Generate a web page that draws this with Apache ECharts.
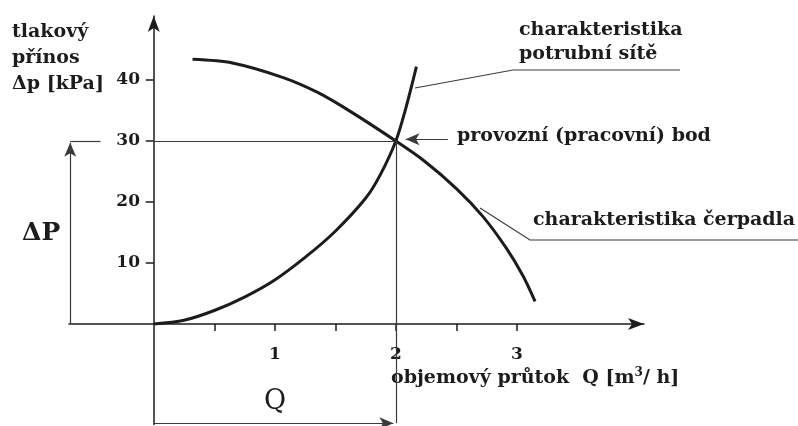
<!DOCTYPE html>
<html>
<head>
    <meta charset="utf-8">
    <title>pracovní bod čerpadla</title>
    <script type="text/javascript" src="https://cdn.jsdelivr.net/npm/echarts@6/dist/echarts.min.js"></script>
    <style>
        body {
            margin: 0px;
            padding: 0px;
            background: #fff;
        }
    </style>
</head>
<body>
<div id="chartRegion" style="width: 798px; height: 426px;"></div>
<script type="text/javascript">
    // charakteristika čerpadla (Q [m3/h], dp [kPa])
    var pumpQ = [0.32, 0.65, 1.07, 1.35, 1.62, 2.0, 2.23, 2.5, 2.72, 2.91, 3.05, 3.15];
    var pumpDp = [43.4, 42.8, 40.4, 38.0, 34.9, 30.0, 26.8, 22.2, 17.6, 12.5, 7.9, 3.7];
    // charakteristika potrubní sítě
    var pipeQ = [0, 0.25, 0.5, 0.75, 1.0, 1.25, 1.5, 1.75, 1.87, 2.0, 2.08, 2.17];
    var pipeDp = [0, 0.6, 2.2, 4.4, 7.2, 10.9, 15.2, 20.6, 24.4, 30.0, 35.2, 42.2];
    // osy
    var xTicks = [0.5, 1, 1.5, 2, 2.5, 3];
    var xLabels = [1, 2, 3];
    var yTicks = [10, 20, 30, 40];
    // provozní bod
    var workQ = 2;
    var workDp = 30;

    var ink = '#1c1c1c';
    var thin = '#3a3a3a';
    var serif = '"DejaVu Serif", "Liberation Serif", serif';

    function pairs(xs, ys) {
        var out = [];
        for (var i = 0; i < xs.length; i++) {
            out.push([xs[i], ys[i]]);
        }
        return out;
    }

    function seg(a, b, arrow) {
        return [
            {coord: a, symbol: 'none'},
            {coord: b, symbol: arrow ? 'arrow' : 'none'}
        ];
    }

    var chart = echarts.init(document.getElementById('chartRegion'));

    var option = {
        backgroundColor: '#fff',
        animation: false,
        grid: {left: 69, right: 154, top: 16, bottom: 1.5, containLabel: false, outerBoundsMode: 'none'},
        xAxis: {
            type: 'value',
            min: -0.7,
            max: 4.05,
            splitLine: {show: false},
            axisLine: {
                onZero: true,
                symbol: ['none', 'arrow'],
                symbolSize: [9, 16],
                lineStyle: {color: ink, width: 1.5}
            },
            axisTick: {show: true, customValues: xTicks, length: 7, lineStyle: {color: ink, width: 1.5}},
            axisLabel: {
                customValues: xLabels,
                margin: -78,   // popisky zůstávají u okraje gridu, posun k ose v nule
                color: ink,
                fontFamily: serif,
                fontWeight: 'bold',
                fontSize: 17
            }
        },
        yAxis: {
            type: 'value',
            min: -16.5,
            max: 50.5,
            splitLine: {show: false},
            axisLine: {
                onZero: true,
                symbol: ['none', 'arrow'],
                symbolSize: [9, 16],
                lineStyle: {color: ink, width: 1.5}
            },
            axisTick: {show: true, customValues: yTicks, length: 8, lineStyle: {color: ink, width: 1.5}},
            axisLabel: {
                customValues: yTicks,
                margin: -71,
                color: ink,
                fontFamily: serif,
                fontWeight: 'bold',
                fontSize: 17
            }
        },
        series: [
            {
                name: 'charakteristika čerpadla',
                type: 'line',
                data: pairs(pumpQ, pumpDp),
                smooth: 0.3,
                showSymbol: false,
                silent: true,
                lineStyle: {color: ink, width: 3}
            },
            {
                name: 'charakteristika potrubní sítě',
                type: 'line',
                data: pairs(pipeQ, pipeDp),
                smooth: 0.3,
                showSymbol: false,
                silent: true,
                lineStyle: {color: ink, width: 3},
                markLine: {
                    silent: true,
                    animation: false,
                    symbolSize: [9, 14],
                    label: {show: false},
                    lineStyle: {color: thin, width: 1.2, type: 'solid'},
                    data: [
                        // vodorovná z provozního bodu k ose
                        seg([0, workDp], [workQ, workDp], false),
                        // svislá z provozního bodu dolů
                        seg([workQ, workDp], [workQ, -16.3], false),
                        // šipka Q
                        seg([0, -16.3], [workQ - 0.02, -16.3], true),
                        // šipka dp vlevo
                        seg([-0.69, 0], [-0.69, workDp - 0.3], true),
                        seg([-0.69, workDp], [-0.44, workDp], false),
                        // šipka na provozní bod
                        seg([2.43, workDp + 0.3], [2.08, workDp + 0.3], true)
                    ]
                }
            }
        ],
        graphic: [
            {type: 'text', left: 12, top: 23, style: {text: 'tlakový', font: 'bold 19px ' + serif, fill: ink}},
            {type: 'text', left: 12, top: 49, style: {text: 'přínos', font: 'bold 19px ' + serif, fill: ink}},
            {type: 'text', left: 12, top: 75, style: {text: 'Δp [kPa]', font: 'bold 19px ' + serif, fill: ink}},
            {type: 'text', left: 22, top: 221, style: {text: 'ΔP', font: 'bold 25px ' + serif, fill: ink}},
            {type: 'text', left: 264, top: 388, style: {text: 'Q', font: '27px ' + serif, fill: ink}},
            {
                type: 'text', left: 391, top: 367,
                style: {
                    text: '{a|objemový průtok  Q [m}{s|3}{a|/ h]}',
                    rich: {
                        a: {font: 'bold 19px ' + serif, fill: ink, verticalAlign: 'bottom'},
                        s: {font: 'bold 12px ' + serif, fill: ink, verticalAlign: 'top', padding: [0, 0, 9, 0]}
                    }
                }
            },
            {type: 'text', left: 519, top: 21, style: {text: 'charakteristika', font: 'bold 19px ' + serif, fill: ink}},
            {type: 'text', left: 519, top: 45, style: {text: 'potrubní sítě', font: 'bold 19px ' + serif, fill: ink}},
            {type: 'text', left: 457, top: 127, style: {text: 'provozní (pracovní) bod', font: 'bold 19px ' + serif, fill: ink}},
            {type: 'text', left: 533, top: 211, style: {text: 'charakteristika čerpadla', font: 'bold 19px ' + serif, fill: ink}},
            {
                type: 'polyline', silent: true,
                shape: {points: [[680, 70], [513, 70], [415, 88]]},
                style: {stroke: thin, lineWidth: 1.2, fill: null}
            },
            {
                type: 'polyline', silent: true,
                shape: {points: [[798, 240], [530, 240], [480, 208]]},
                style: {stroke: thin, lineWidth: 1.2, fill: null}
            }
        ]
    };
    chart.setOption(option);
</script>
</body>
</html>
